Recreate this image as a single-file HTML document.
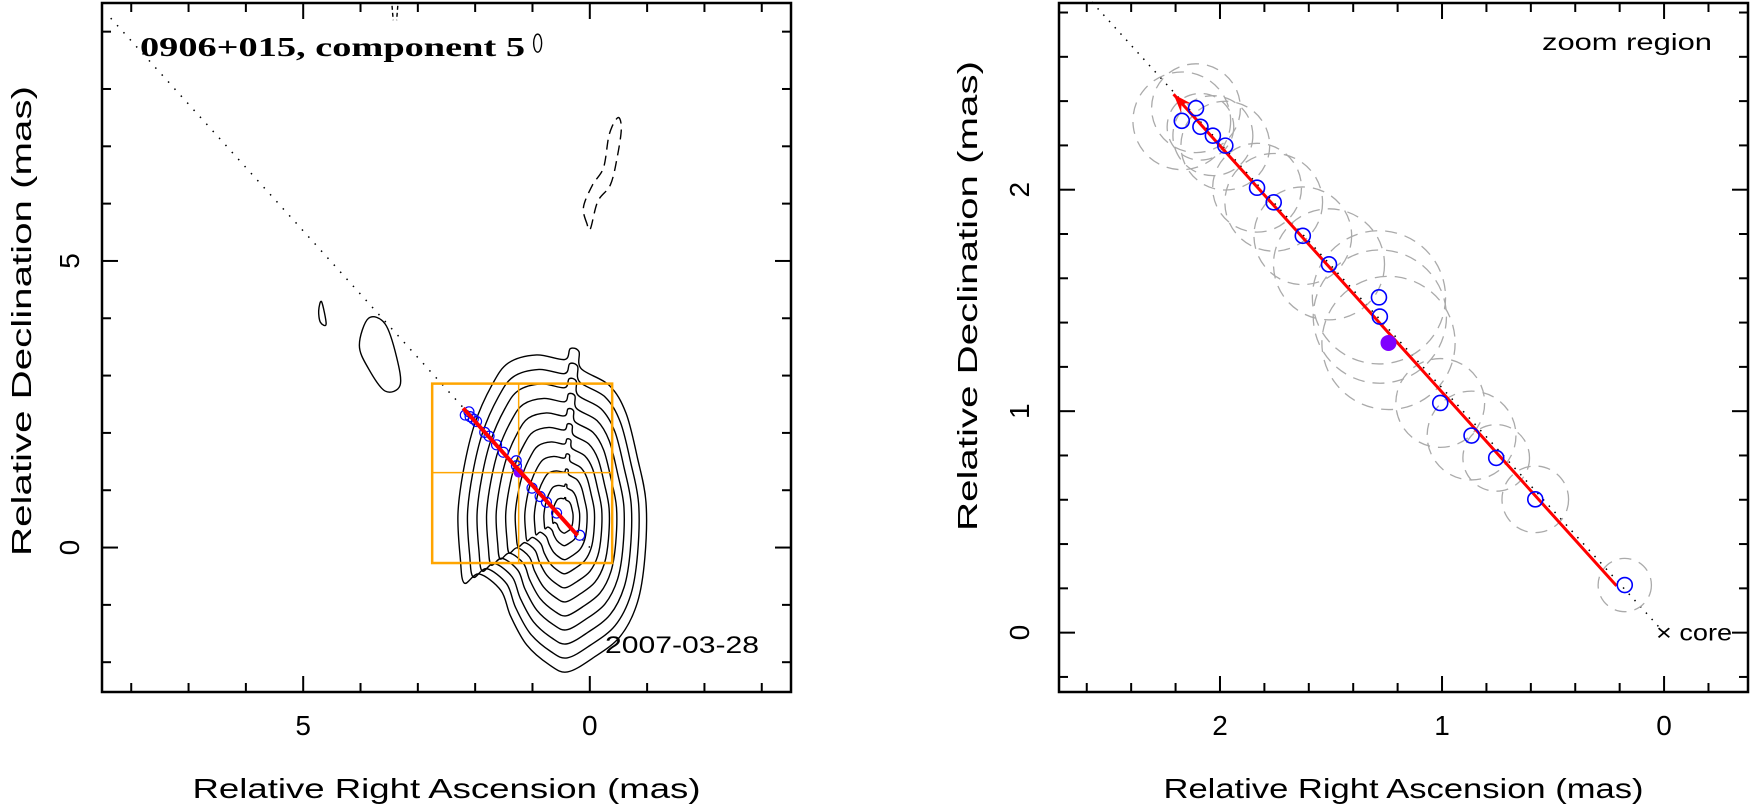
<!DOCTYPE html>
<html><head><meta charset="utf-8"><style>
html,body{margin:0;padding:0;background:#fff}
svg{display:block}
text{font-family:"Liberation Sans",sans-serif;fill:#000}
</style></head><body>
<svg id="chart" width="1753" height="811" viewBox="0 0 1753 811" xmlns="http://www.w3.org/2000/svg">
<g id="left"></g>
<g id="right"></g>
</svg>
<script>
// ---- data ----
const compRA  = [2.172,2.108,2.088,2.032,1.976,1.833,1.758,1.627,1.509,1.284,1.280,1.008,0.867,0.756,0.580,0.177];
const compDec = [2.311,2.368,2.284,2.244,2.199,2.009,1.943,1.792,1.663,1.514,1.427,1.037,0.890,0.789,0.602,0.215];
const compErr = [0.22,0.20,0.15,0.18,0.20,0.20,0.22,0.22,0.25,0.30,0.30,0.20,0.20,0.15,0.15,0.12];
const refRA = [1.241], refDec = [1.308], refErr = [0.30];
const arrowRA = [0.214, 2.209];
const arrowDec = [0.211, 2.431];
const outerRA  = [1.42,0.93,0.44,0.34,0.19,0.15,-0.34,-0.63,-0.83,-0.98,-0.96,-0.83,-0.53,-0.05,0.39,0.70,1.10,1.38,1.55,1.93,2.19,2.26,2.30,2.20,2.01,1.71];
const outerDec = [3.22,3.36,3.28,3.47,3.42,3.12,2.83,2.35,1.57,0.79,-0.18,-0.96,-1.55,-1.93,-2.17,-2.05,-1.70,-1.20,-0.75,-0.46,-0.62,-0.18,0.59,1.37,2.15,2.83];
const levelScale = [1,0.91,0.82,0.73,0.64,0.55,0.46,0.37,0.28,0.19,0.11];
const blobRA  = [3.86,3.57,3.37,3.31,3.57,3.86,4.02];
const blobDec = [4.00,3.90,3.32,2.83,2.73,3.12,3.53];
const smallRA = [4.68,4.60,4.70,4.73];
const smallDec= [4.29,3.90,3.93,4.13];
const negRA  = [0.05,0.11,-0.05,-0.24,-0.34,-0.49,-0.55,-0.48,-0.36,-0.14,-0.01];
const negDec = [5.65,5.94,6.33,6.63,7.21,7.50,7.31,6.82,6.33,6.04,5.56];
const boxRA = [2.75,-0.39], boxDec = [2.86,-0.27];
const leftXTicks=[5,0], leftYTicks=[5,0], rightXTicks=[2,1,0], rightYTicks=[2,1,0];

const NS="http://www.w3.org/2000/svg";
function mk(parent,tag,attrs,txt){const e=document.createElementNS(NS,tag);for(const k in attrs)e.setAttribute(k,attrs[k]);if(txt!==undefined)e.textContent=txt;parent.appendChild(e);return e;}

function panel(g,P){
  const sx=v=>P.x0+(P.raMax-v)*(P.x1-P.x0)/(P.raMax-P.raMin);
  const sy=v=>P.y0+(P.decMax-v)*(P.y1-P.y0)/(P.decMax-P.decMin);
  return {sx,sy};
}
function frame(g,P,sx,sy,minStep,majTicks,labelsX,labelsY){
  const tg=mk(g,'g',{stroke:'#000','stroke-width':2});
  
  
  const isMaj=(v)=>Math.abs(v/majTicks-Math.round(v/majTicks))<1e-6;
  for(let v=Math.ceil(P.raMin/minStep)*minStep;v<=P.raMax+1e-9;v+=minStep){
    const x=sx(v),L=isMaj(v)?16:9;
    mk(tg,'line',{x1:x,y1:P.y1,x2:x,y2:P.y1-L});
    mk(tg,'line',{x1:x,y1:P.y0,x2:x,y2:P.y0+L});
  }
  for(let v=Math.ceil(P.decMin/minStep)*minStep;v<=P.decMax+1e-9;v+=minStep){
    const y=sy(v),L=isMaj(v)?16:9;
    mk(tg,'line',{x1:P.x0,y1:y,x2:P.x0+L,y2:y});
    mk(tg,'line',{x1:P.x1,y1:y,x2:P.x1-L,y2:y});
  }
  const fr=mk(g,'rect',{x:P.x0,y:P.y0,width:P.x1-P.x0,height:P.y1-P.y0,fill:'none',stroke:'#000','stroke-width':2.5});
  
  
  labelsX.forEach(v=>{const t=mk(g,'text',{x:sx(v),y:735,'text-anchor':'middle','font-size':28},String(v));
    
    });
  labelsY.forEach(v=>{const y=sy(v);const t=mk(g,'text',{x:0,y:0,'text-anchor':'middle','font-size':28,transform:`translate(${P.ytx},${y}) rotate(-90)`},String(v));
    
    });
  const xt=mk(g,'text',{x:(P.x0+P.x1)/2,y:798,'text-anchor':'middle','font-size':28,textLength:P.xlen,lengthAdjust:'spacingAndGlyphs'},'Relative Right Ascension (mas)');
  
  
  const yt=mk(g,'text',{x:0,y:0,'text-anchor':'middle','font-size':28,textLength:P.ylen,lengthAdjust:'spacingAndGlyphs',transform:`translate(${P.yax},${P.ayc}) rotate(-90)`},'Relative Declination (mas)');
  
  
}
function smooth(pts,closed){
  const n=pts.length;let d=`M${pts[0][0]},${pts[0][1]}`;
  const get=i=>closed?pts[(i+n)%n]:pts[Math.max(0,Math.min(n-1,i))];
  const m=closed?n:n-1;
  for(let i=0;i<m;i++){const p0=get(i-1),p1=get(i),p2=get(i+1),p3=get(i+2);
    const c1=[p1[0]+(p2[0]-p0[0])/6,p1[1]+(p2[1]-p0[1])/6],c2=[p2[0]-(p3[0]-p1[0])/6,p2[1]-(p3[1]-p1[1])/6];
    d+=`C${c1[0]},${c1[1]} ${c2[0]},${c2[1]} ${p2[0]},${p2[1]}`;}
  return d+(closed?'Z':'');
}
function arrow(g,sx,sy,w,head){
  const x1=sx(arrowRA[0]),y1=sy(arrowDec[0]),x2=sx(arrowRA[1]),y2=sy(arrowDec[1]);
  const a=mk(g,'line',{x1,y1,x2,y2,stroke:'#f00','stroke-width':w});
  
  
  if(head){const ang=Math.atan2(y2-y1,x2-x1),L=20,s=0.35;
    const p=[[x2,y2],[x2-L*Math.cos(ang-s),y2-L*Math.sin(ang-s)],[x2-L*0.6*Math.cos(ang),y2-L*0.6*Math.sin(ang)],[x2-L*Math.cos(ang+s),y2-L*Math.sin(ang+s)]];
    const h=mk(g,'polygon',{points:p.map(q=>q.join(',')).join(' '),fill:'#f00'});
    
    }
}

// ---- left panel ----
const L={x0:102,x1:791,y0:3,y1:692,raMax:8.51,raMin:-3.51,decMax:9.50,decMin:-2.52,ytx:79,yax:31,ayc:321,xlen:508,ylen:470};
const gl=document.getElementById('left');
const {sx:lx,sy:ly}=panel(gl,L);
{const d=mk(gl,'line',{x1:lx(0),y1:ly(0),x2:lx(8.4),y2:ly(8.4*1.105),stroke:'#000','stroke-width':1.5,'stroke-dasharray':'1.5 8'});
 
 }
const cx=0.45,cy=0.55;
const cg=mk(gl,'g',{fill:'none',stroke:'#000','stroke-width':1.4});


levelScale.forEach((f,k)=>{
  const pts=outerRA.map((r,i)=>[lx(cx+(r-cx)*f),ly(cy+(outerDec[i]-cy)*f)]);
  const p=mk(cg,'path',{d:smooth(pts,true)});
  
  
});
[[blobRA,blobDec],[smallRA,smallDec]].forEach(([a,b])=>{
  const p=mk(cg,'path',{d:smooth(a.map((r,i)=>[lx(r),ly(b[i])]),true)});
  
  
});
{const p=mk(cg,'path',{d:smooth(negRA.map((r,i)=>[lx(r),ly(negDec[i])]),true),'stroke-dasharray':'10 6'});
 
 
 const o=mk(cg,'ellipse',{cx:lx(0.91),cy:ly(8.80),rx:4,ry:9});
 
 
 const q=mk(cg,'path',{d:`M${lx(3.45)},${ly(9.45)} L${lx(3.43)},${ly(9.2)} M${lx(3.35)},${ly(9.45)} L${lx(3.37)},${ly(9.2)}`,'stroke-dasharray':'4 3'});
 
 }
{const og=mk(gl,'g',{fill:'none',stroke:'#FFA500','stroke-width':2.5});
 
 
 mk(og,'rect',{x:lx(boxRA[0]),y:ly(boxDec[0]),width:lx(boxRA[1])-lx(boxRA[0]),height:ly(boxDec[1])-ly(boxDec[0])});
 mk(og,'line',{x1:lx(refRA[0]),y1:ly(boxDec[0]),x2:lx(refRA[0]),y2:ly(boxDec[1]),'stroke-width':1.5});
 mk(og,'line',{x1:lx(boxRA[0]),y1:ly(refDec[0]),x2:lx(boxRA[1]),y2:ly(refDec[0]),'stroke-width':1.5});}
compRA.forEach((r,i)=>{const c=mk(gl,'circle',{cx:lx(r),cy:ly(compDec[i]),r:5,fill:'none',stroke:'#00f','stroke-width':1.2});
  
  });
{const c=mk(gl,'circle',{cx:lx(refRA[0]),cy:ly(refDec[0]),r:5,fill:'#8000ff'});
 
 }
arrow(gl,lx,ly,4,false);
frame(gl,L,lx,ly,1,5,leftXTicks,leftYTicks);
{const t=mk(gl,'text',{x:140,y:56,style:'font-family:"Liberation Serif",serif;font-size:27px;font-weight:bold',textLength:385,lengthAdjust:'spacingAndGlyphs'},'0906+015, component 5');
 
 
 const d=mk(gl,'text',{x:605,y:653,'font-size':24,textLength:154,lengthAdjust:'spacingAndGlyphs'},'2007-03-28');
 
 }

// ---- right panel ----
const R={x0:1059,x1:1748,y0:3,y1:692,raMax:2.725,raMin:-0.378,decMax:2.843,decMin:-0.268,ytx:1029,yax:977,ayc:296,xlen:480,ylen:470};
const gr=document.getElementById('right');
const {sx:rx,sy:ry}=panel(gr,R);
{const d=mk(gr,'line',{x1:rx(0),y1:ry(0),x2:rx(2.6),y2:ry(2.6*1.105),stroke:'#000','stroke-width':1.5,'stroke-dasharray':'1.5 7'});
 
 }
const eg=mk(gr,'g',{fill:'none',stroke:'#aaa','stroke-width':1.3,'stroke-dasharray':'12 8'});


const ppm=(R.x1-R.x0)/(R.raMax-R.raMin);
compRA.forEach((r,i)=>{const c=mk(eg,'circle',{cx:rx(r),cy:ry(compDec[i]),r:compErr[i]*ppm});
  
  });
{const c=mk(eg,'circle',{cx:rx(refRA[0]),cy:ry(refDec[0]),r:refErr[0]*ppm});
 
 }
arrow(gr,rx,ry,3,true);
compRA.forEach((r,i)=>{const c=mk(gr,'circle',{cx:rx(r),cy:ry(compDec[i]),r:7.5,fill:'none',stroke:'#00f','stroke-width':1.6});
  
  });
{const c=mk(gr,'circle',{cx:rx(refRA[0]),cy:ry(refDec[0]),r:8,fill:'#8000ff'});
 
 }
frame(gr,R,rx,ry,0.2,1,rightXTicks,rightYTicks);
{const t=mk(gr,'text',{x:1542,y:50,'font-size':23,textLength:170,lengthAdjust:'spacingAndGlyphs'},'zoom region');
 
 
 const c=mk(gr,'text',{x:rx(0)-8,y:ry(0)+8,'font-size':23,textLength:76,lengthAdjust:'spacingAndGlyphs'},'\u00d7 core');
 
 }
</script>
</body></html>
